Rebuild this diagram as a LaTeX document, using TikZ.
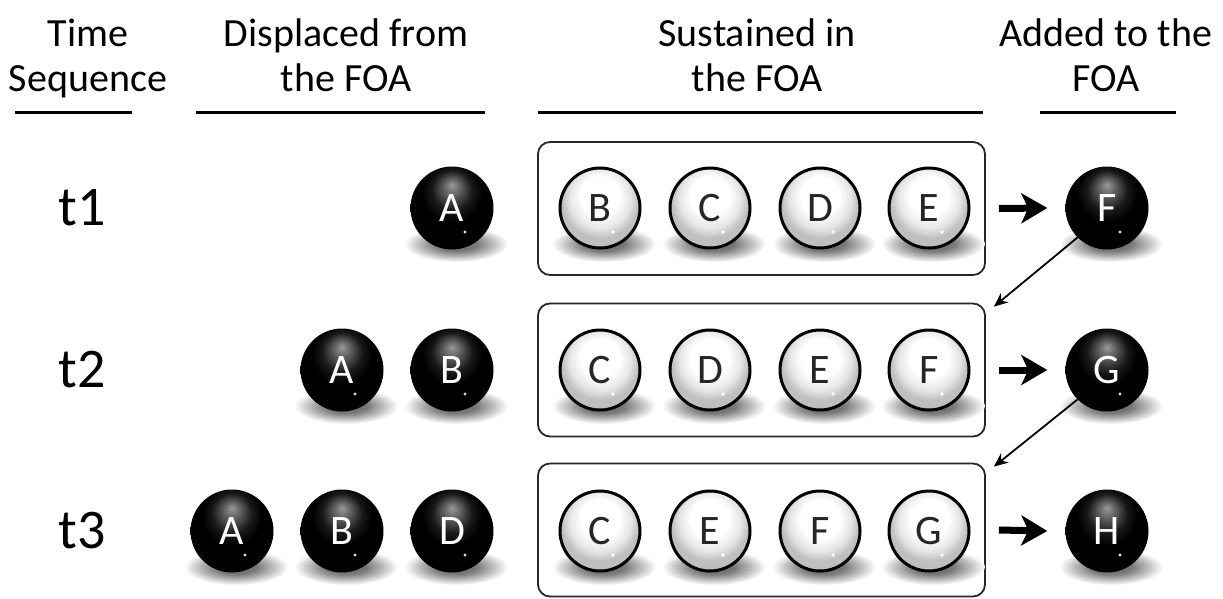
\documentclass[tikz,border=0pt]{standalone}
\usepackage{fontspec}
\setmainfont{Carlito}
\usetikzlibrary{arrows.meta}
\pgfdeclareradialshading{blackballsh}{\pgfpoint{0bp}{14bp}}{color(0bp)=(black!40); color(5bp)=(black!62); color(12bp)=(black!90); color(18bp)=(black); color(50bp)=(black)}
\pgfdeclareradialshading{whiteballsh}{\pgfpoint{0bp}{10bp}}{color(0bp)=(white); color(12bp)=(white); color(19bp)=(black!10); color(24bp)=(black!25); color(50bp)=(black!28)}
\pgfdeclareradialshading{shadowsh}{\pgfpoint{0bp}{0bp}}{color(0bp)=(black!62); color(10bp)=(black!52); color(18bp)=(black!25); color(25bp)=(white); color(50bp)=(white)}
\begin{document}
\begin{tikzpicture}[x=1pt,y=-1pt,
  hdr/.style={font=\fontsize{40}{45}\selectfont, align=center, inner sep=0pt, anchor=base},
  rowlab/.style={font=\fontsize{56}{60}\selectfont, inner sep=0pt},
  bball/.style={circle, minimum size=83pt, inner sep=0pt, shade, shading=blackballsh, text=white, font=\fontsize{42}{46}\selectfont},
  wball/.style={circle, minimum size=80pt, inner sep=0pt, draw=black, line width=3pt, shade, shading=whiteballsh, text=black!85, font=\fontsize{42}{46}\selectfont},
  foabox/.style={draw=black!85, line width=1.8pt, rounded corners=12pt, minimum width=447pt, minimum height=133pt, inner sep=0pt},
  hrule/.style={line width=3pt},
  bigarrow/.style={line width=7pt, -{Stealth[length=26pt,width=30pt,inset=7pt]}},
  thinarrow/.style={line width=1.8pt, -{Stealth[length=14pt,width=12pt]}},
  ballshadow/.style={shade, shading=shadowsh}]
\useasboundingbox (0,0) rectangle (1223,598);
% headers
\node[hdr] (h1) at (88,91) {Time\\Sequence};
\node[hdr] (h2) at (346,91) {Displaced from\\the FOA};
\node[hdr] (h3) at (757,91) {Sustained in\\the FOA};
\node[hdr] (h4) at (1106,91) {Added to the\\FOA};
\coordinate (r1a) at (15,112);  \coordinate (r1b) at (132,112);
\coordinate (r2a) at (196,112); \coordinate (r2b) at (485,112);
\coordinate (r3a) at (538,112); \coordinate (r3b) at (983,112);
\coordinate (r4a) at (1040,112); \coordinate (r4b) at (1176,112);
\draw[hrule] (r1a) -- (r1b);
\draw[hrule] (r2a) -- (r2b);
\draw[hrule] (r3a) -- (r3b);
\draw[hrule] (r4a) -- (r4b);
% row labels
\node[rowlab] (t1) at (82,208) {t1};
\node[rowlab] (t2) at (82,370) {t2};
\node[rowlab] (t3) at (82,531) {t3};
% boxes
\node[foabox] (box1) at (761.5,208.5) {};
\node[foabox] (box2) at (761.5,370) {};
\node[foabox] (box3) at (761.5,530) {};
% shadows
\foreach \x/\y in {452/208, 342/370, 452/370, 232/531, 342/531, 452/531, 1107/208, 1107/370, 1107/531,
  600/208, 710/208, 820/208, 929/208, 600/370, 710/370, 820/370, 929/370, 600/531, 710/531, 820/531, 929/531}
  \path[ballshadow] (\x+4,\y+36) ellipse (52 and 18);
% displaced balls
\node[bball] (a1) at (452,208) {A};
\node[bball] (a2) at (342,370) {A};
\node[bball] (b2) at (452,370) {B};
\node[bball] (a3) at (232,531) {A};
\node[bball] (b3) at (342,531) {B};
\node[bball] (d3) at (452,531) {D};
% added balls
\node[bball] (f1) at (1107,208) {F};
\node[bball] (g2) at (1107,370) {G};
\node[bball] (h3) at (1107,531) {H};
% sustained balls
\node[wball] (s1b) at (600,208) {B};
\node[wball] (s1c) at (710,208) {C};
\node[wball] (s1d) at (820,208) {D};
\node[wball] (s1e) at (929,208) {E};
\node[wball] (s2c) at (600,370) {C};
\node[wball] (s2d) at (710,370) {D};
\node[wball] (s2e) at (820,370) {E};
\node[wball] (s2f) at (929,370) {F};
\node[wball] (s3c) at (600,531) {C};
\node[wball] (s3e) at (710,531) {E};
\node[wball] (s3f) at (820,531) {F};
\node[wball] (s3g) at (929,531) {G};
% glints
\foreach \n in {a1,a2,b2,a3,b3,d3,f1,g2,h3}
  \fill[white!85!black] ([shift={(13,24)}]\n.center) circle (1.6);
\foreach \n in {s1b,s1c,s1d,s1e,s2c,s2d,s2e,s2f,s3c,s3e,s3f,s3g}
  \fill[white] ([shift={(13,24)}]\n.center) circle (1.8);
% arrows
\draw[bigarrow] ([xshift=13pt]box1.east) -- ([xshift=-18pt]f1.west);
\draw[bigarrow] ([xshift=13pt]box2.east) -- ([xshift=-18pt]g2.west);
\draw[bigarrow] ([xshift=13pt]box3.east) -- ([xshift=-18pt]h3.west);
\draw[thinarrow] (f1.225) -- ([shift={(8,4)}]box2.north east);
\draw[thinarrow] (g2.225) -- ([shift={(8,4)}]box3.north east);
\end{tikzpicture}
\end{document}
